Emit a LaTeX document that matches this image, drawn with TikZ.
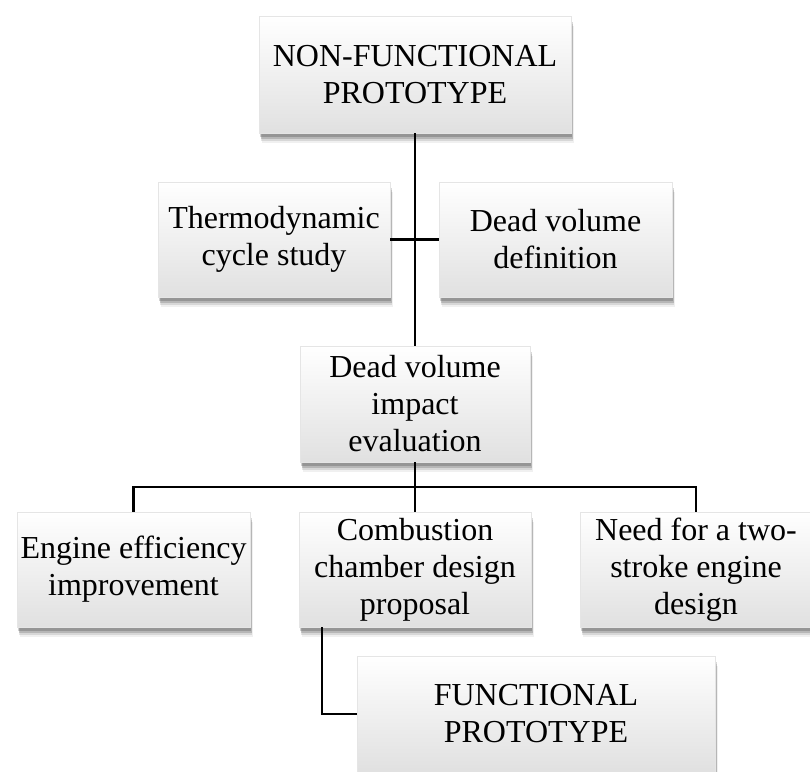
\documentclass[tikz,border=0pt]{standalone}
\usepackage{fontspec}
\setmainfont{Liberation Serif}
\usetikzlibrary{shadows}
\tikzset{
  softshadow/.style={
    general shadow={fill=black, opacity=.06, shadow xshift=3pt, shadow yshift=-10pt},
    general shadow={fill=black, opacity=.10, shadow xshift=2pt, shadow yshift=-8pt},
    general shadow={fill=black, opacity=.15, shadow xshift=1.5pt, shadow yshift=-6pt},
    general shadow={fill=black, opacity=.18, shadow xshift=1pt, shadow yshift=-3.5pt}},
  box/.style={rectangle, inner sep=0pt, align=center,
    font=\fontsize{32}{37}\selectfont,
    top color=white, bottom color=black!12, draw=black!10, line width=0.4pt,
    softshadow},
  conn/.style={draw=black, line width=2.2pt}
}
\begin{document}
\begin{tikzpicture}[x=1pt, y=-1pt]
\useasboundingbox (0,0) rectangle (810,771);
\clip (0,0) rectangle (810,771);
\fill[white] (0,0) rectangle (810,771);

\node[box, minimum width=312pt, minimum height=117pt] (top) at (415,74.5) {NON-FUNCTIONAL\\PROTOTYPE};
\node[box, minimum width=232pt, minimum height=115pt] (thermo) at (274,239.5) {Thermodynamic\\cycle study};
\node[box, minimum width=233pt, minimum height=115pt] (deaddef) at (555.5,239.5) {Dead volume\\definition};
\node[box, minimum width=230pt, minimum height=116pt] (impact) at (415,404) {Dead volume\\impact\\evaluation};
\node[box, minimum width=233pt, minimum height=115pt] (engine) at (133.5,569.5) {Engine efficiency\\improvement};
\node[box, minimum width=232pt, minimum height=115pt] (comb) at (415,569.5) {Combustion\\chamber design\\proposal};
\node[box, minimum width=232pt, minimum height=115pt] (need) at (696,569.5) {Need for a two-\\stroke engine\\design};
\node[box, minimum width=358pt, minimum height=116pt] (func) at (536,714) {FUNCTIONAL\\PROTOTYPE};

\coordinate (bus) at (415,487);
\draw[conn] (top.south) -- (impact.north);
\draw[conn] (thermo.east) -- (deaddef.west);
\draw[conn] (impact.south) -- (bus);
\draw[conn] (engine.north) -- (engine.north |- bus) -- (need.north |- bus) -- (need.north);
\draw[conn] (bus) -- (comb.north);
\draw[conn] ([xshift=23pt]comb.south west) |- (func.west);
\end{tikzpicture}
\end{document}
